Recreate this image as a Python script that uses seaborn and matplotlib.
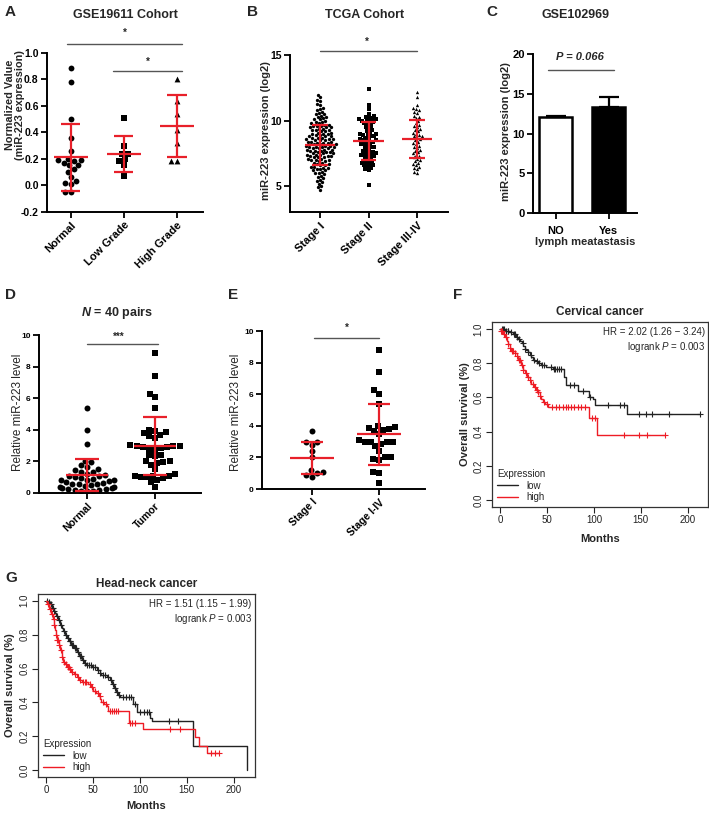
import numpy as np
import pandas as pd
import matplotlib
matplotlib.use("Agg")
import matplotlib.pyplot as plt
import seaborn as sns

sns.set_theme(style="ticks")
plt.rcParams["font.family"] = ["Liberation Sans", "DejaVu Sans"]
plt.rcParams["mathtext.fontset"] = "custom"
plt.rcParams["mathtext.rm"] = "Liberation Sans"
plt.rcParams["mathtext.it"] = "Liberation Sans:italic"
plt.rcParams["mathtext.bf"] = "Liberation Sans:bold"
try:
    plt.rcParams["mathtext.bfit"] = "Liberation Sans:italic:bold"
except KeyError:
    pass

# ---------------- data ----------------
# Panel A: GSE19611
a_cats = ["Normal", "Low Grade", "High Grade"]
a_normal = [0.89, 0.78, 0.50, 0.36, 0.26, 0.20, 0.19, 0.19, 0.18, 0.17,
            0.15, 0.15, 0.12, 0.10, 0.06, 0.03, 0.02, 0.01, -0.05, -0.05]
a_low = [0.51, 0.30, 0.24, 0.24, 0.20, 0.18, 0.15, 0.07]
a_high = [0.80, 0.64, 0.54, 0.42, 0.32, 0.18, 0.18]
a_mean = [0.21, 0.237, 0.445]
a_sd = [0.255, 0.133, 0.235]

# Panel B: TCGA
b_cats = ["Stage I", "Stage II", "Stage III-IV"]
b_stage1 = [12.0, 11.8, 11.6, 11.5, 11.3, 11.2, 11.0, 10.9, 10.8, 10.7, 10.6, 10.5, 10.5,
            10.4, 10.3, 10.3, 10.2, 10.1, 10.1, 10.0,
            9.9, 9.9, 9.8, 9.8, 9.7, 9.7, 9.6, 9.6, 9.6, 9.5, 9.5, 9.5, 9.4, 9.4, 9.3,
            9.3, 9.3, 9.2, 9.2, 9.1, 9.1, 9.0, 9.0, 9.0,
            8.9, 8.9, 8.8, 8.8, 8.8, 8.7, 8.7, 8.7, 8.6, 8.6, 8.6, 8.5, 8.5, 8.5, 8.4,
            8.4, 8.4, 8.3, 8.3, 8.3, 8.2, 8.2, 8.2, 8.1, 8.1, 8.1, 8.0, 8.0, 8.0, 8.0,
            7.9, 7.9, 7.9, 7.8, 7.8, 7.8, 7.7, 7.7, 7.7, 7.6, 7.6, 7.6, 7.5, 7.5, 7.5,
            7.4, 7.4, 7.4, 7.3, 7.3, 7.3, 7.2, 7.2, 7.2, 7.1, 7.1, 7.0, 7.0, 7.0,
            6.9, 6.9, 6.8, 6.8, 6.7, 6.7, 6.6, 6.6, 6.5, 6.5, 6.4, 6.4, 6.3, 6.3, 6.2,
            6.2, 6.1, 6.0, 6.0,
            5.9, 5.8, 5.7, 5.6, 5.5, 5.4, 5.3, 5.2, 5.0, 4.9, 4.7]
b_stage2 = [12.4, 11.2, 10.9, 10.5, 10.4, 10.3, 10.2, 10.2, 10.1, 10.1, 10.0, 10.0, 9.9,
            9.9, 9.8, 9.7, 9.6, 9.5, 9.4, 9.3, 9.2, 9.1, 9.0, 9.0, 8.9, 8.9, 8.8, 8.8,
            8.7, 8.6, 8.6, 8.5, 8.5, 8.4, 8.4, 8.3, 8.2, 8.2, 8.1, 8.0, 8.0, 7.9, 7.8,
            7.7, 7.6, 7.6, 7.5, 7.5, 7.4, 7.4, 7.3, 7.3, 7.2, 7.1, 7.0, 6.9, 6.8, 6.8,
            6.7, 6.6, 6.6, 6.5, 6.4, 6.3, 6.2, 5.1]
b_stage34 = [12.2, 11.8, 11.2, 11.0, 10.9, 10.8, 10.7, 10.6, 10.4, 10.3, 10.2, 10.0, 9.8,
             9.7, 9.6, 9.5, 9.4, 9.3, 9.2, 9.1, 9.0, 8.9, 8.8, 8.8, 8.7, 8.6, 8.5, 8.4,
             8.3, 8.2, 8.1, 8.0, 7.9, 7.8, 7.7, 7.6, 7.5, 7.4, 7.3, 7.2, 7.1, 7.0, 6.9,
             6.8, 6.7, 6.6, 6.5, 6.4, 6.3, 6.1, 6.0]
b_mean = [8.12, 8.45, 8.63]
b_sd = [1.53, 1.42, 1.44]

# Panel C: GSE102969
c_cats = ["NO", "Yes"]
c_vals = [12.1, 13.4]
c_err = [0.1, 1.2]

# Panel D: 40 pairs
d_cats = ["Normal", "Tumor"]
d_normal = [5.37, 4.0, 3.09, 2.05, 1.95, 1.75, 1.65, 1.55, 1.45, 1.35, 1.3, 1.2, 1.15,
            1.1, 1.05, 1.0, 0.95, 0.9, 0.85, 0.85, 0.8, 0.75, 0.7, 0.65, 0.6, 0.6, 0.55,
            0.5, 0.45, 0.4, 0.35, 0.3, 0.3, 0.25, 0.25, 0.2, 0.2, 0.15, 0.15, 0.1]
d_tumor = [8.85, 7.4, 6.25, 6.05, 5.4, 4.0, 3.95, 3.85, 3.8, 3.7, 3.6, 3.5, 3.05, 3.0,
           3.0, 2.95, 2.9, 2.9, 2.85, 2.8, 2.75, 2.4, 2.4, 2.35, 2.0, 2.0, 1.95, 1.9,
           1.8, 1.5, 1.2, 1.1, 1.1, 1.05, 1.0, 1.0, 0.95, 0.8, 0.7, 0.4]
d_mean = [1.15, 2.98]
d_sd = [1.02, 1.82]

# Panel E: stage
e_cats = ["Stage I", "Stage I-IV"]
e_stage1 = [3.65, 3.0, 2.95, 2.8, 2.4, 2.0, 1.2, 1.1, 1.0, 0.9, 0.75]
e_stage14 = [8.8, 7.4, 6.25, 6.0, 5.4, 4.0, 3.95, 3.85, 3.8, 3.75, 3.7, 3.45, 3.1, 3.0,
             3.0, 3.0, 2.95, 2.85, 2.7, 2.4, 2.0, 2.0, 1.9, 1.85, 1.1, 1.0, 0.4]
e_mean = [1.98, 3.45]
e_sd = [1.01, 1.9]

# Panel F: cervical cancer KM
f_low_t = [0, 5, 10, 14, 17, 19.4, 21, 22.9, 24.5, 26.4, 28.2, 30, 31.7, 33.5, 35.2, 37,
           40.5, 44, 49, 56, 68, 70.4, 82.7, 95, 98.6, 101, 135.5, 213]
f_low_s = [1.0, 0.99, 0.98, 0.97, 0.955, 0.94, 0.93, 0.915, 0.90, 0.885, 0.875, 0.865,
           0.85, 0.835, 0.82, 0.81, 0.80, 0.79, 0.78, 0.765, 0.72, 0.67, 0.635, 0.605,
           0.59, 0.555, 0.50, 0.50]
f_low_c = [2, 3, 4, 6, 8, 9, 12, 15, 16, 18, 20, 24, 27, 30, 33, 36, 39, 42, 45, 47, 54,
           57, 59, 61, 63, 65, 75, 79, 88, 96, 115, 128, 132, 148, 155, 162, 180, 213]
f_high_t = [0, 1, 3, 5, 7, 8.5, 10.5, 12, 15.5, 17.6, 19.4, 22, 24.6, 26.4, 29, 31.7,
            33.5, 36.3, 38.7, 40.5, 42.2, 44, 45.8, 48.2, 51, 95, 103, 176]
f_high_s = [1.0, 0.99, 0.97, 0.95, 0.93, 0.91, 0.89, 0.87, 0.86, 0.84, 0.82, 0.79, 0.76,
            0.74, 0.72, 0.70, 0.68, 0.66, 0.645, 0.63, 0.61, 0.59, 0.575, 0.56, 0.545,
            0.48, 0.38, 0.38]
f_high_c = [1.5, 2.5, 4, 6, 9, 11, 13, 14, 16, 18, 20, 21, 23, 25, 28, 30, 32, 35, 37,
            39, 41, 43, 47, 50, 55, 60, 63, 67, 70, 72, 76, 79, 83, 86, 91, 98, 101,
            132, 148, 157, 176]

# Panel G: head-neck cancer KM
g_low_t = [0, 2, 4, 6, 8, 10, 11, 13, 15, 17, 18.5, 20, 22, 24.5, 27, 30, 33, 35.5, 38,
           40.5, 43, 49, 54, 57, 59, 65, 68, 70, 72, 74, 77, 79, 93, 97, 111, 113, 156, 214]
g_low_s = [1.0, 0.99, 0.98, 0.96, 0.94, 0.925, 0.91, 0.885, 0.86, 0.84, 0.82, 0.80, 0.78,
           0.76, 0.74, 0.72, 0.70, 0.675, 0.65, 0.635, 0.62, 0.61, 0.59, 0.575, 0.56,
           0.55, 0.53, 0.51, 0.485, 0.46, 0.445, 0.43, 0.39, 0.345, 0.31, 0.29, 0.145, 0.0]
g_low_c = [1, 3, 5, 7, 9, 12, 14, 16, 19, 21, 23, 25, 26, 28, 29, 31, 32, 34, 36, 37, 39,
           42, 44, 46, 48, 50, 52, 55, 58, 61, 63, 66, 69, 71, 73, 76, 78, 82, 85, 88,
           91, 95, 100, 104, 107, 110, 131, 141]
g_high_t = [0, 1.5, 3, 4, 5.5, 7, 8.5, 10, 11, 12, 13.5, 15, 17, 18.5, 20, 22, 24.5, 27,
            30, 33, 35.5, 38, 45, 48, 50, 53, 56, 58, 59, 62, 65, 66.5, 88, 103, 159,
            162.6, 171.5, 184]
g_high_s = [1.0, 0.98, 0.96, 0.95, 0.92, 0.89, 0.86, 0.83, 0.80, 0.77, 0.74, 0.71, 0.67,
            0.64, 0.625, 0.61, 0.595, 0.58, 0.565, 0.55, 0.535, 0.52, 0.51, 0.49, 0.47,
            0.455, 0.44, 0.42, 0.40, 0.39, 0.38, 0.35, 0.28, 0.245, 0.195, 0.145, 0.10, 0.10]
g_high_c = [2, 4, 6, 8, 9, 11, 12, 13, 14, 16, 17, 19, 21, 23, 24, 26, 28, 31, 34, 36, 39,
            41, 43, 47, 49, 52, 55, 57, 61, 64, 68, 70, 72, 75, 77, 89, 92, 95, 132, 143,
            176, 180, 184]

RED = "#e8202a"
W, H = 709, 815
fig = plt.figure(figsize=(W / 100, H / 100), dpi=100)


def add_ax(x0, y0, x1, y1):
    return fig.add_axes([x0 / W, 1 - y1 / H, (x1 - x0) / W, (y1 - y0) / H])


def ptext(x, y, s, **kw):
    fig.text(x / W, 1 - y / H, s, **kw)


def prism(ax, xlim, ylim, bounds, yticks, tfs, fmt=None):
    sns.despine(ax=ax)
    for sp in ["left", "bottom"]:
        ax.spines[sp].set_linewidth(1.4)
        ax.spines[sp].set_color("black")
    ax.spines["left"].set_bounds(*bounds)
    ax.set_xlim(*xlim)
    ax.set_ylim(*ylim)
    ax.set_yticks(yticks)
    if fmt:
        ax.set_yticklabels([fmt.format(v) for v in yticks])
    ax.tick_params(direction="out", length=4, width=1.3, colors="black", labelsize=tfs, pad=2)
    for lab in ax.get_yticklabels():
        lab.set_fontweight("bold")
    ax.set_xlabel("")


def dot_panel(ax, cats, groups, markers, size, means, sds, mhw, chw):
    for c, vals, m in zip(cats, groups, markers):
        sns.swarmplot(x=[c] * len(vals), y=vals, order=cats, marker=m, color="black",
                      size=size, ax=ax, zorder=2, warn_thresh=1)
    xs = np.arange(len(cats))
    means = np.asarray(means)
    sds = np.asarray(sds)
    kw = dict(color=RED, lw=1.6, zorder=4)
    ax.hlines(means, xs - mhw, xs + mhw, **kw)
    ax.hlines(means + sds, xs - chw, xs + chw, **kw)
    ax.hlines(means - sds, xs - chw, xs + chw, **kw)
    ax.vlines(xs, means - sds, means + sds, **kw)


def xlabels(ax, cats, fs):
    ax.set_xticks(np.arange(len(cats)))
    ax.set_xticklabels(cats, rotation=45, ha="right", rotation_mode="anchor",
                       fontweight="bold", fontsize=fs)


def sig(ax, x0, x1, y, text, tx, ty, fs=8, color="#555555", **kw):
    ax.plot([x0, x1], [y, y], color=color, lw=1.0, clip_on=False)
    ax.text(tx, ty, text, ha="center", va="center", fontsize=fs, fontweight="bold",
            clip_on=False, **kw)


# ---------------- Panel A ----------------
axA = add_ax(47, 26.6, 203, 211.7)
dot_panel(axA, a_cats, [a_normal, a_low, a_high], ["o", "s", "^"], 4.2,
          a_mean, a_sd, 0.32, 0.18)
prism(axA, (-0.45, 2.49), (-0.2, 1.2), (-0.2, 1.0), [-0.2, 0, 0.2, 0.4, 0.6, 0.8, 1.0],
      7.5, "{:.1f}")
xlabels(axA, a_cats, 8)
axA.set_ylabel("Normalized Value\n(miR-223 expression)", fontweight="bold", fontsize=7.8,
               linespacing=1.05)
axA.yaxis.set_label_coords(-0.14, 0.575)
sig(axA, -0.08, 2.1, 1.068, "*", 1.01, 1.15, fs=7)
sig(axA, 0.8, 2.1, 0.866, "*", 1.45, 0.935, fs=7)
ptext(125, 15, "GSE19611 Cohort", ha="center", va="center", fontsize=9, fontweight="bold")

# ---------------- Panel B ----------------
axB = add_ax(290, 29.2, 448, 212.3)
dot_panel(axB, b_cats, [b_stage1, b_stage2, b_stage34], ["o", "s", "^"], 2.4,
          b_mean, b_sd, 0.31, 0.16)
prism(axB, (-0.62, 2.64), (3, 17), (3, 15), [5, 10, 15], 7.5)
xlabels(axB, b_cats, 8)
axB.set_ylabel("miR-223 expression (log2)", fontweight="bold", fontsize=8)
axB.yaxis.set_label_coords(-0.12, 0.444)
sig(axB, 0, 2.0, 15.33, "*", 0.97, 16.0, fs=7)
ptext(365, 15, "TCGA Cohort", ha="center", va="center", fontsize=9, fontweight="bold")

# ---------------- Panel C ----------------
axC = add_ax(533, 30.4, 637, 213)
sns.barplot(x=c_cats, y=c_vals, hue=c_cats, palette=["white", "black"], order=c_cats,
            hue_order=c_cats, edgecolor="black", linewidth=1.8, width=0.62,
            errorbar=None, legend=False, ax=axC)
axC.errorbar(np.arange(2), c_vals, yerr=[np.zeros(2), c_err], fmt="none", ecolor="black",
             elinewidth=1.6, capsize=7, capthick=1.6, zorder=5)
prism(axC, (-0.43, 1.53), (0, 23), (0, 20), [0, 5, 10, 15, 20], 8)
axC.set_xticks([0, 1])
axC.set_xticklabels(c_cats, fontweight="bold", fontsize=8)
axC.tick_params(axis="x", pad=5)
axC.set_xlabel("lymph meatastasis", fontweight="bold", fontsize=8, labelpad=1)
axC.set_ylabel("miR-223 expression (log2)", fontweight="bold", fontsize=8)
axC.yaxis.set_label_coords(-0.21, 0.444)
axC.plot([-0.15, 1.09], [18.0, 18.0], color="#555555", lw=1.0, clip_on=False)
axC.text(0.45, 19.7, "P = 0.066", ha="center", va="center", fontsize=8,
         fontweight="bold", style="italic")
ptext(575, 15, "GSE102969", ha="center", va="center", fontsize=9, fontweight="bold")

# ---------------- Panel D ----------------
axD = add_ax(39, 328.7, 201, 493)
dot_panel(axD, d_cats, [d_normal, d_tumor], ["o", "s"], 4.3, d_mean, d_sd, 0.31, 0.17)
prism(axD, (-0.706, 1.676), (0, 10.4), (0, 10), [0, 2, 4, 6, 8, 10], 6)
xlabels(axD, d_cats, 7.5)
axD.set_ylabel("Relative miR-223 level", fontsize=8.5)
axD.yaxis.set_label_coords(-0.093, 0.493)
sig(axD, 0, 1.04, 9.43, "***", 0.47, 9.9, fs=7)
ptext(117, 313, r"$\mathbfit{N}$ = 40 pairs", ha="center", va="center", fontsize=9,
      fontweight="bold")

# ---------------- Panel E ----------------
axE = add_ax(262, 324.7, 425, 489)
dot_panel(axE, e_cats, [e_stage1, e_stage14], ["o", "s"], 4.3, e_mean, e_sd, 0.33, 0.16)
prism(axE, (-0.746, 1.687), (0, 10.4), (0, 10), [0, 2, 4, 6, 8, 10], 6)
xlabels(axE, e_cats, 7.5)
axE.set_ylabel("Relative miR-223 level", fontsize=8.5)
axE.yaxis.set_label_coords(-0.123, 0.469)
sig(axE, 0.03, 1.0, 9.56, "*", 0.52, 10.2, fs=7)


# ---------------- KM panels ----------------
def km(ax, t, s, cens, color, label):
    t = np.asarray(t, float)
    s = np.asarray(s, float)
    sns.lineplot(x=t, y=s, drawstyle="steps-post", color=color, lw=1.0, ax=ax,
                 label=label, estimator=None, sort=False)
    idx = np.searchsorted(t, np.asarray(cens, float), side="right") - 1
    ax.plot(cens, s[idx], ls="none", marker="+", ms=4.5, mew=0.8, color=color)


def km_style(ax, xmax, title, hr, xlpad):
    ax.set_xlim(-0.04 * xmax, 1.04 * xmax)
    ax.set_ylim(-0.04, 1.04)
    for sp in ax.spines.values():
        sp.set_visible(True)
        sp.set_color("#333333")
        sp.set_linewidth(0.9)
    ax.set_xticks([0, 50, 100, 150, 200])
    yt = [0, 0.2, 0.4, 0.6, 0.8, 1.0]
    ax.set_yticks(yt)
    ax.set_yticklabels(["{:.1f}".format(v) for v in yt], rotation=90, va="center")
    ax.tick_params(direction="out", length=4, width=0.8, labelsize=7, colors="#222222",
                   pad=2)
    ax.set_xlabel("Months", fontweight="bold", fontsize=8, labelpad=xlpad)
    ax.set_ylabel("Overall survival (%)", fontweight="bold", fontsize=8, labelpad=3)
    ax.set_title(title, fontweight="bold", fontsize=8.5, pad=5)
    ax.text(0.985, 0.975, hr, transform=ax.transAxes, ha="right", va="top", fontsize=7,
            multialignment="right", linespacing=1.3)
    ax.legend(loc="lower left", frameon=False, title="Expression", fontsize=7,
              title_fontsize=7, handlelength=2.2, borderaxespad=0.3, labelspacing=0.15,
              alignment="left", borderpad=0.2)


axF = add_ax(492, 322, 708, 507)
km(axF, f_low_t, f_low_s, f_low_c, "#222222", "low")
km(axF, f_high_t, f_high_s, f_high_c, "#ee1c25", "high")
km_style(axF, 213, "Cervical cancer", "HR = 2.02 (1.26 \u2212 3.24)\nlogrank $P$ = 0.003", 6)

axG = add_ax(38, 594, 255, 777)
km(axG, g_low_t, g_low_s, g_low_c, "#222222", "low")
km(axG, g_high_t, g_high_s, g_high_c, "#ee1c25", "high")
km_style(axG, 214, "Head-neck cancer", "HR = 1.51 (1.15 \u2212 1.99)\nlogrank $P$ = 0.003", 4)

# panel letters
for lt, x, y in [("A", 10, 12), ("B", 252, 12), ("C", 492, 12), ("D", 10, 295),
                 ("E", 233, 295), ("F", 458, 295), ("G", 11, 578)]:
    ptext(x, y, lt, ha="center", va="center", fontsize=11, fontweight="bold")

fig.savefig("out.png", dpi=100)
